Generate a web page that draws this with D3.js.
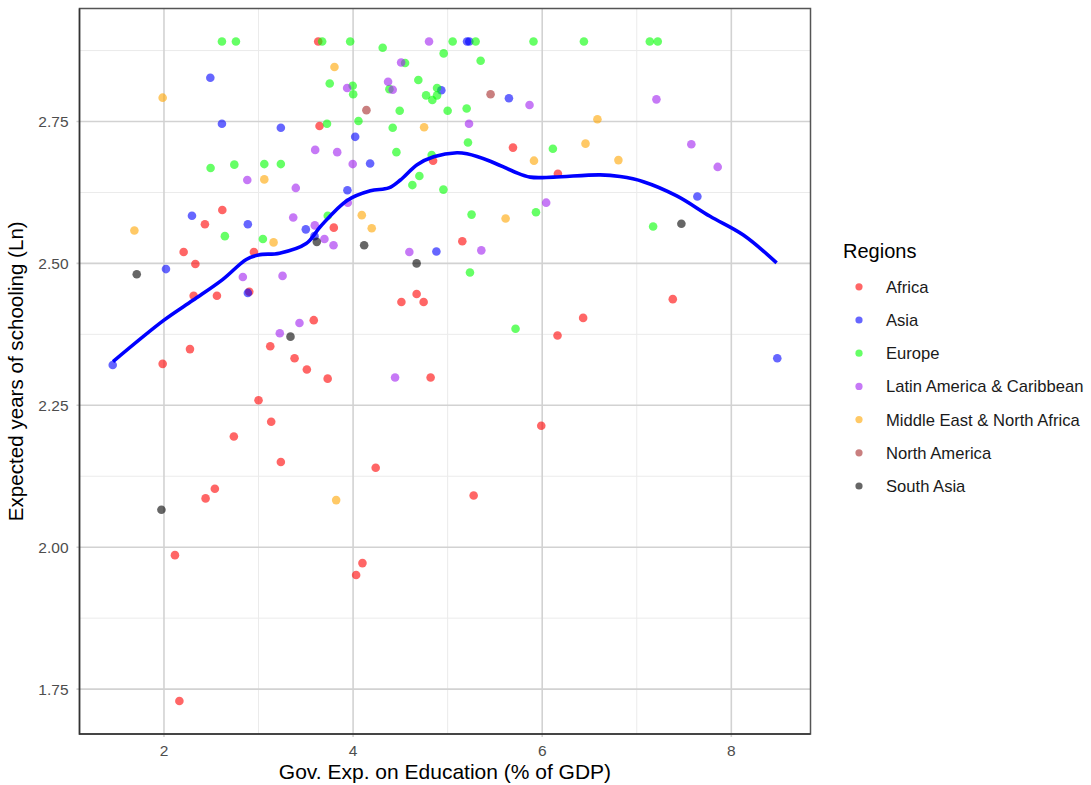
<!DOCTYPE html>
<html>
<head>
<meta charset="utf-8">
<script src="https://cdn.jsdelivr.net/npm/d3@7"></script>
<style>
  body { margin: 0; background: #fff; }
  svg { display: block; font-family: "Liberation Sans", Arial, sans-serif; }
</style>
</head>
<body>
<svg id="chart" width="1091" height="785"></svg>
<script>
// points, [gov. exp. % GDP, ln expected years]
const africa = [
  [3.631, 2.891], [3.645, 2.742], [2.617, 2.594], [2.433, 2.569], [2.208, 2.520],
  [2.951, 2.520], [2.332, 2.499], [2.314, 2.443], [2.560, 2.443], [2.902, 2.450],
  [3.584, 2.400], [3.124, 2.354], [2.275, 2.349], [1.986, 2.323], [3.381, 2.333],
  [3.511, 2.313], [3.731, 2.297], [3.000, 2.259], [3.134, 2.221], [2.739, 2.195],
  [3.236, 2.150], [2.538, 2.103], [2.440, 2.086], [2.116, 1.986], [4.099, 1.972],
  [4.032, 1.951], [2.163, 1.729], [5.275, 2.091], [4.239, 2.140], [5.990, 2.214],
  [6.433, 2.404], [6.162, 2.373], [7.381, 2.437], [4.820, 2.299], [4.511, 2.432],
  [4.672, 2.446], [4.746, 2.432], [5.155, 2.539], [3.796, 2.563], [4.846, 2.681],
  [5.691, 2.704], [6.166, 2.658]
];
const asia = [
  [1.458, 2.321], [2.021, 2.490], [2.296, 2.584], [2.490, 2.827], [2.613, 2.746],
  [3.236, 2.739], [2.887, 2.569], [2.887, 2.448], [3.500, 2.560], [3.592, 2.548],
  [4.022, 2.723], [4.180, 2.676], [3.940, 2.629], [4.933, 2.805], [5.205, 2.891],
  [5.229, 2.891], [5.648, 2.791], [4.881, 2.521], [7.641, 2.618], [8.486, 2.333]
];
const europe = [
  [2.613, 2.891], [2.761, 2.891], [3.673, 2.891], [3.969, 2.891], [5.053, 2.891],
  [5.296, 2.891], [5.908, 2.891], [6.441, 2.891], [7.138, 2.891], [7.222, 2.891],
  [4.313, 2.880], [4.958, 2.870], [5.349, 2.857], [4.550, 2.853], [3.753, 2.817],
  [3.996, 2.813], [4.001, 2.798], [4.384, 2.807], [4.690, 2.823], [4.772, 2.796],
  [4.838, 2.788], [4.888, 2.796], [4.888, 2.809], [4.493, 2.769], [5.000, 2.769],
  [5.201, 2.773], [3.724, 2.746], [4.057, 2.751], [4.419, 2.739], [5.215, 2.713],
  [4.458, 2.696], [6.113, 2.702], [4.831, 2.691], [4.701, 2.654], [4.627, 2.638],
  [4.955, 2.630], [3.732, 2.584], [5.253, 2.586], [5.934, 2.590], [7.173, 2.565],
  [5.236, 2.484], [5.718, 2.385], [2.493, 2.668], [2.744, 2.674], [3.061, 2.675],
  [3.236, 2.675], [2.644, 2.548], [3.046, 2.543]
];
const latinAmerica = [
  [4.803, 2.891], [4.508, 2.854], [4.370, 2.820], [3.937, 2.809], [4.419, 2.806],
  [5.866, 2.779], [7.208, 2.789], [5.226, 2.746], [3.599, 2.700], [3.832, 2.696],
  [7.577, 2.710], [7.856, 2.670], [3.996, 2.675], [2.881, 2.647], [3.394, 2.633],
  [3.944, 2.607], [6.042, 2.607], [3.367, 2.581], [3.595, 2.567], [3.697, 2.543],
  [3.793, 2.532], [4.595, 2.520], [5.356, 2.523], [2.834, 2.476], [3.254, 2.478],
  [3.433, 2.395], [3.225, 2.377], [4.444, 2.299]
];
const middleEast = [
  [1.986, 2.792], [3.803, 2.846], [1.687, 2.558], [3.061, 2.648], [3.159, 2.537],
  [4.751, 2.740], [4.092, 2.585], [4.197, 2.562], [5.613, 2.579], [5.913, 2.681],
  [6.584, 2.754], [6.458, 2.711], [6.806, 2.682], [3.821, 2.083]
];
const northAmerica = [[4.141, 2.770], [5.454, 2.798]];
const southAsia = [
  [1.712, 2.481], [1.973, 2.066], [3.616, 2.538], [3.338, 2.371], [4.117, 2.532],
  [4.672, 2.500], [7.472, 2.570]
];

const regions = ["Africa", "Asia", "Europe", "Latin America & Caribbean",
  "Middle East & North Africa", "North America", "South Asia"];
const regionColors = ["#FF0000", "#0000FF", "#00FF00", "#A020F0", "#FFA500", "#A52A2A", "#000000"];
const regionPoints = [africa, asia, europe, latinAmerica, middleEast, northAmerica, southAsia];

// loess curve
const smoothX = [1.461, 2.000, 2.306, 2.623, 2.870, 3.000, 3.222, 3.504, 3.655, 3.937,
  4.183, 4.377, 4.500, 4.677, 4.852, 5.099, 5.205, 5.451, 5.697, 5.873,
  6.120, 6.613, 6.824, 7.070, 7.423, 7.775, 8.127, 8.479];
const smoothY = [2.327, 2.400, 2.435, 2.472, 2.507, 2.515, 2.518, 2.535, 2.565, 2.611,
  2.628, 2.633, 2.647, 2.674, 2.688, 2.695, 2.693, 2.680, 2.662, 2.652,
  2.652, 2.656, 2.653, 2.644, 2.619, 2.583, 2.550, 2.501];

const xTicks = [2, 4, 6, 8];
const xMinor = [3, 5, 7];
const yTicks = [1.75, 2.00, 2.25, 2.50, 2.75];
const yMinor = [1.875, 2.125, 2.375, 2.625, 2.875];

const panel = {left: 79.5, right: 810.5, top: 8.5, bottom: 734};

const svg = d3.select("#chart");

const allPts = regionPoints.flat();
const expand = ext => {
    const pad = (ext[1] - ext[0]) * 0.05;
    return [ext[0] - pad, ext[1] + pad];
};

const x = d3.scaleLinear()
    .domain(expand(d3.extent(allPts, d => d[0])))
    .range([panel.left, panel.right]);
const y = d3.scaleLinear()
    .domain(expand(d3.extent(allPts, d => d[1])))
    .range([panel.bottom, panel.top]);

// grid
const grid = svg.append("g");
grid.selectAll("line.xminor").data(xMinor).join("line")
    .attr("x1", d => x(d)).attr("x2", d => x(d))
    .attr("y1", panel.top).attr("y2", panel.bottom)
    .attr("stroke", "#ebebeb").attr("stroke-width", 1);
grid.selectAll("line.yminor").data(yMinor).join("line")
    .attr("y1", d => y(d)).attr("y2", d => y(d))
    .attr("x1", panel.left).attr("x2", panel.right)
    .attr("stroke", "#ebebeb").attr("stroke-width", 1);
grid.selectAll("line.xmajor").data(xTicks).join("line")
    .attr("x1", d => x(d)).attr("x2", d => x(d))
    .attr("y1", panel.top).attr("y2", panel.bottom + 3)
    .attr("stroke", "#d2d2d2").attr("stroke-width", 1.6);
grid.selectAll("line.ymajor").data(yTicks).join("line")
    .attr("y1", d => y(d)).attr("y2", d => y(d))
    .attr("x1", panel.left - 3).attr("x2", panel.right)
    .attr("stroke", "#d2d2d2").attr("stroke-width", 1.6);

// points
const pts = svg.append("g");
regionPoints.forEach((arr, i) => {
    pts.selectAll(null).data(arr).join("circle")
        .attr("cx", d => x(d[0]))
        .attr("cy", d => y(d[1]))
        .attr("r", 4.3)
        .attr("fill", regionColors[i])
        .attr("fill-opacity", 0.6);
});

// smoother
const line = d3.line()
    .x((d, i) => x(smoothX[i]))
    .y(d => y(d))
    .curve(d3.curveCatmullRom);
svg.append("path")
    .attr("d", line(smoothY))
    .attr("fill", "none")
    .attr("stroke", "#0000FF")
    .attr("stroke-width", 3.6);

// panel border
svg.append("rect")
    .attr("x", panel.left).attr("y", panel.top)
    .attr("width", panel.right - panel.left).attr("height", panel.bottom - panel.top)
    .attr("fill", "none").attr("stroke", "#555").attr("stroke-width", 1.5);
svg.append("path")
    .attr("d", `M${panel.left},${panel.top}V${panel.bottom}H${panel.right}`)
    .attr("fill", "none").attr("stroke", "#333").attr("stroke-width", 1.5);

// tick labels
svg.append("g").selectAll("text").data(xTicks).join("text")
    .attr("x", d => x(d)).attr("y", 756)
    .attr("text-anchor", "middle")
    .attr("font-size", 15.5).attr("fill", "#4d4d4d")
    .text(d => d3.format("d")(d));
svg.append("g").selectAll("text").data(yTicks).join("text")
    .attr("x", 68.5).attr("y", d => y(d) + 5.5)
    .attr("text-anchor", "end")
    .attr("font-size", 15.5).attr("fill", "#4d4d4d")
    .text(d => d3.format(".2f")(d));

// axis titles
svg.append("text")
    .attr("x", (panel.left + panel.right) / 2).attr("y", 779)
    .attr("text-anchor", "middle").attr("font-size", 21).attr("fill", "#000")
    .text("Gov. Exp. on Education (% of GDP)");
svg.append("text")
    .attr("transform", `translate(22.5,${(panel.top + panel.bottom) / 2}) rotate(-90)`)
    .attr("text-anchor", "middle").attr("font-size", 20.6).attr("fill", "#000")
    .text("Expected years of schooling (Ln)");

// legend
const legend = svg.append("g").attr("transform", "translate(843,0)");
legend.append("text")
    .attr("x", 0).attr("y", 257.5)
    .attr("font-size", 20).attr("fill", "#000")
    .text("Regions");
const item = legend.selectAll("g.item").data(regions).join("g")
    .attr("transform", (d, i) => `translate(0,${286.8 + i * 33.2})`);
item.append("circle")
    .attr("cx", 16).attr("cy", 0).attr("r", 3.6)
    .attr("fill", (d, i) => regionColors[i]).attr("fill-opacity", 0.6);
item.append("text")
    .attr("x", 43).attr("y", 6)
    .attr("font-size", 16.6).attr("fill", "#1a1a1a")
    .text(d => d);
</script>
</body>
</html>
